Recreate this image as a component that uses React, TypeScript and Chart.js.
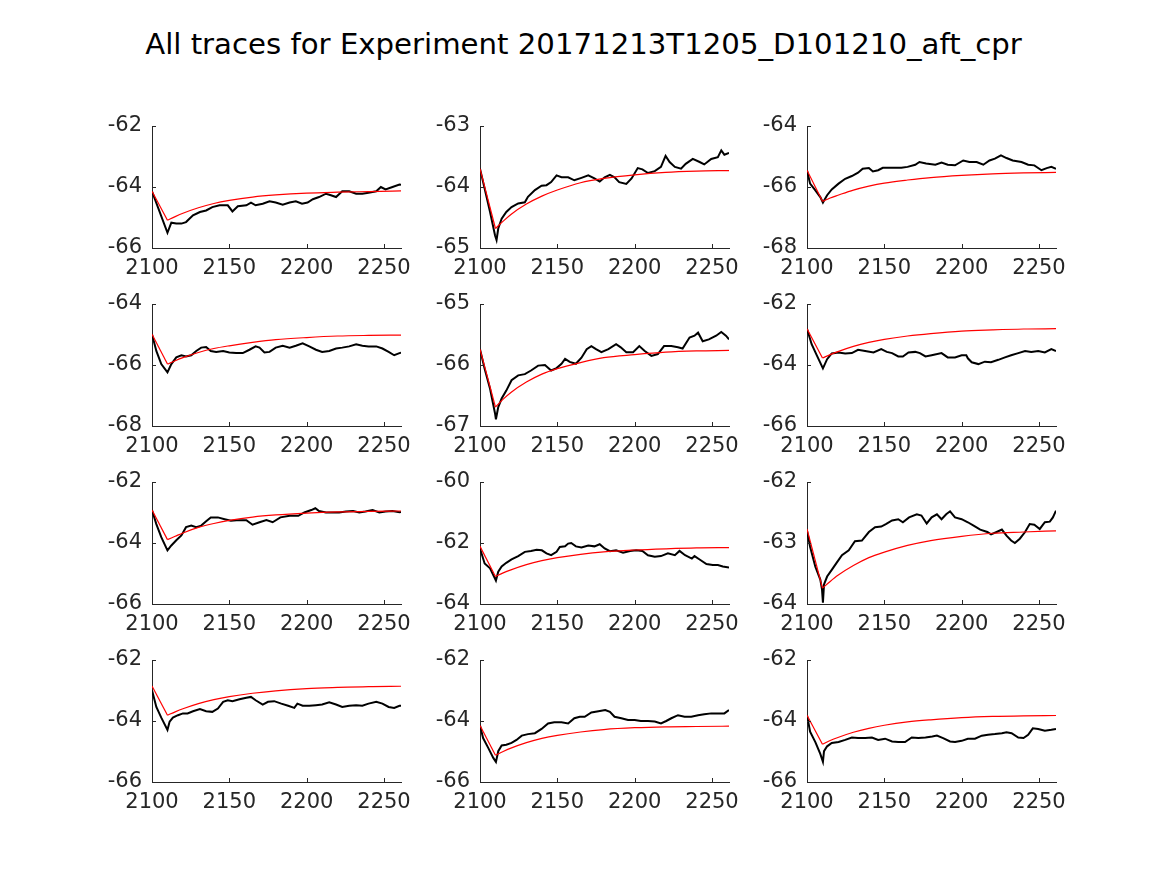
import React, { useEffect, useRef } from "react";
import { Chart, registerables } from "chart.js";

Chart.register(...registerables);

const titleText = "All traces for Experiment 20171213T1205_D101210_aft_cpr";
const xTicks = [2100, 2150, 2200, 2250];
const xMin = 2100;
const xMax = 2261;
const fitX = [2100, 2110, 2115, 2120, 2130, 2140, 2150, 2165, 2180, 2200, 2220, 2240, 2261];

const yTicks1 = [-66, -64, -62];
const trace1 = [[2100,-64.14],[2110,-65.5],[2112.5,-65.17],[2115.7,-65.2],[2119,-65.2],[2122,-65.15],[2126.5,-64.93],[2131,-64.82],[2135,-64.77],[2139,-64.66],[2143.7,-64.6],[2149,-64.6],[2152,-64.8],[2155.5,-64.63],[2161,-64.6],[2164,-64.51],[2167,-64.6],[2171.6,-64.55],[2176,-64.47],[2180,-64.51],[2184.5,-64.58],[2189,-64.51],[2193,-64.47],[2197,-64.55],[2200.6,-64.51],[2204,-64.4],[2208,-64.33],[2212.5,-64.22],[2215.7,-64.27],[2219,-64.33],[2223,-64.14],[2227.5,-64.14],[2232,-64.22],[2236,-64.22],[2240,-64.19],[2245,-64.14],[2248,-64.0],[2251,-64.08],[2255.5,-64.0],[2260,-63.92],[2261,-63.93]];
const fit1 = [-64.14, -65.09, -64.97, -64.86, -64.68, -64.54, -64.44, -64.33, -64.26, -64.2, -64.17, -64.15, -64.13];

const yTicks2 = [-65, -64, -63];
const trace2 = [[2100,-63.7],[2106.5,-64.41],[2109.7,-64.79],[2110.7,-64.87],[2111.8,-64.68],[2114,-64.52],[2117,-64.41],[2120.4,-64.33],[2124.7,-64.27],[2129,-64.25],[2131,-64.16],[2135.5,-64.05],[2139.8,-63.98],[2143,-63.97],[2146,-63.92],[2149.5,-63.81],[2152.7,-63.84],[2157,-63.84],[2161,-63.89],[2165.6,-63.85],[2170,-63.81],[2174,-63.86],[2177.4,-63.91],[2180.6,-63.84],[2184,-63.8],[2187,-63.84],[2190,-63.92],[2194.6,-63.95],[2198,-63.86],[2202,-63.69],[2205,-63.71],[2208.6,-63.77],[2213,-63.74],[2217,-63.67],[2220,-63.49],[2222.6,-63.59],[2226,-63.67],[2230,-63.7],[2233,-63.62],[2237.6,-63.54],[2242,-63.59],[2245,-63.63],[2249.5,-63.54],[2253.8,-63.51],[2256,-63.4],[2258,-63.47],[2261,-63.44]];
const fit2 = [-63.7, -64.68, -64.56, -64.45, -64.28, -64.15, -64.05, -63.93, -63.86, -63.8, -63.76, -63.74, -63.73];

const yTicks3 = [-68, -66, -64];
const trace3 = [[2100,-65.45],[2102,-65.89],[2105.4,-66.11],[2108.6,-66.33],[2110.3,-66.51],[2113,-66.27],[2116,-66.08],[2120.4,-65.89],[2124.7,-65.73],[2129,-65.64],[2133,-65.53],[2136,-65.4],[2140,-65.38],[2142.6,-65.49],[2146,-65.45],[2149,-65.37],[2155,-65.37],[2161,-65.37],[2165,-65.34],[2170,-65.27],[2172.7,-65.18],[2177,-65.23],[2183,-65.27],[2187,-65.2],[2191,-65.27],[2195.7,-65.29],[2201,-65.13],[2205,-65.18],[2209.7,-65.18],[2214,-65.27],[2218,-65.13],[2221.5,-65.07],[2225.4,-64.96],[2229,-65.05],[2233,-65.13],[2238.7,-65.18],[2243,-65.27],[2247,-65.29],[2251.6,-65.45],[2255,-65.38],[2258,-65.34],[2261,-65.4]];
const fit3 = [-65.45, -66.47, -66.36, -66.27, -66.1, -65.97, -65.87, -65.77, -65.69, -65.62, -65.57, -65.54, -65.52];

const yTicks4 = [-68, -66, -64];
const trace4 = [[2100,-64.99],[2102.8,-65.54],[2106,-65.97],[2110,-66.24],[2112.5,-65.97],[2115.7,-65.75],[2119,-65.68],[2122,-65.72],[2125.4,-65.68],[2128.6,-65.54],[2131.8,-65.43],[2135,-65.41],[2138,-65.54],[2141.5,-65.57],[2146,-65.54],[2150,-65.59],[2154.4,-65.61],[2158.7,-65.61],[2163,-65.5],[2167,-65.39],[2169.5,-65.43],[2172.7,-65.59],[2176,-65.57],[2180,-65.43],[2184.5,-65.37],[2189,-65.43],[2193,-65.37],[2197.4,-65.29],[2201.7,-65.39],[2206,-65.5],[2210,-65.57],[2214.6,-65.54],[2219,-65.46],[2223,-65.43],[2227.5,-65.39],[2232,-65.32],[2236,-65.37],[2240,-65.39],[2245,-65.39],[2249,-65.46],[2253,-65.57],[2256.6,-65.68],[2260,-65.61],[2261,-65.6]];
const fit4 = [-64.99, -65.97, -65.86, -65.76, -65.59, -65.46, -65.37, -65.26, -65.17, -65.1, -65.05, -65.03, -65.02];

const yTicks5 = [-67, -66, -65];
const trace5 = [[2100,-65.74],[2103,-66.06],[2106.5,-66.39],[2109.7,-66.79],[2110.3,-66.89],[2111.8,-66.69],[2114,-66.55],[2117,-66.42],[2120.4,-66.25],[2124.7,-66.17],[2129,-66.15],[2133,-66.09],[2137.6,-66.01],[2142,-66.0],[2146,-66.09],[2149.5,-66.05],[2152.7,-65.98],[2155,-65.9],[2158,-65.95],[2162,-65.98],[2165.6,-65.88],[2169,-65.74],[2172,-65.69],[2175,-65.74],[2178.5,-65.79],[2183,-65.74],[2188,-65.66],[2191,-65.71],[2194.6,-65.79],[2199,-65.79],[2203,-65.69],[2206.5,-65.77],[2210.8,-65.85],[2215,-65.82],[2219,-65.69],[2223.7,-65.69],[2228,-65.71],[2231,-65.73],[2235.5,-65.55],[2238.7,-65.52],[2241,-65.47],[2244,-65.61],[2248,-65.58],[2252.7,-65.52],[2256,-65.46],[2259,-65.52],[2261,-65.58]];
const fit5 = [-65.74, -66.69, -66.56, -66.45, -66.28, -66.15, -66.06, -65.96, -65.88, -65.83, -65.79, -65.77, -65.76];

const yTicks6 = [-66, -64, -62];
const trace6 = [[2100,-62.81],[2103,-63.32],[2106.5,-63.7],[2110.3,-64.11],[2113,-63.81],[2116,-63.62],[2120.4,-63.59],[2124.7,-63.62],[2129,-63.61],[2133,-63.5],[2137.6,-63.54],[2143,-63.59],[2148,-63.48],[2151.6,-63.57],[2155,-63.61],[2159,-63.72],[2162,-63.72],[2165.6,-63.59],[2170,-63.57],[2173,-63.61],[2176.6,-63.72],[2180.6,-63.68],[2187,-63.61],[2191,-63.75],[2195.7,-63.75],[2200,-63.68],[2203,-63.68],[2204,-63.78],[2206.5,-63.91],[2210.8,-63.97],[2215,-63.89],[2219,-63.91],[2223.7,-63.83],[2228,-63.75],[2232,-63.68],[2236.6,-63.61],[2241,-63.54],[2245,-63.57],[2249.5,-63.54],[2253.8,-63.59],[2258,-63.48],[2261,-63.54]];
const fit6 = [-62.81, -63.77, -63.66, -63.56, -63.39, -63.26, -63.16, -63.05, -62.97, -62.89, -62.85, -62.82, -62.81];

const yTicks7 = [-66, -64, -62];
const trace7 = [[2100,-62.92],[2102.8,-63.38],[2106,-63.81],[2110,-64.24],[2112.5,-64.08],[2115.7,-63.91],[2119,-63.75],[2122,-63.48],[2125.4,-63.43],[2128.6,-63.48],[2131.8,-63.43],[2135,-63.29],[2138,-63.16],[2142.6,-63.16],[2147,-63.22],[2151,-63.27],[2156.6,-63.25],[2161,-63.25],[2165,-63.4],[2169.5,-63.32],[2174,-63.25],[2178,-63.32],[2183,-63.16],[2189,-63.11],[2194.6,-63.11],[2198.5,-63.0],[2203,-62.92],[2205.6,-62.86],[2208,-62.95],[2212.5,-63.0],[2217,-63.0],[2221,-63.0],[2225.4,-62.97],[2230,-62.95],[2234,-63.0],[2238,-62.97],[2242.6,-62.92],[2247,-63.0],[2251,-62.97],[2255.5,-62.95],[2260,-62.99],[2261,-62.98]];
const fit7 = [-62.92, -63.89, -63.78, -63.67, -63.49, -63.36, -63.26, -63.15, -63.08, -63.02, -62.98, -62.96, -62.95];

const yTicks8 = [-64, -62, -60];
const trace8 = [[2100,-62.18],[2103,-62.67],[2106.5,-62.83],[2110.3,-63.23],[2111.8,-62.94],[2114,-62.77],[2117,-62.65],[2120.4,-62.54],[2124.7,-62.43],[2129,-62.29],[2133,-62.26],[2136.6,-62.22],[2140,-62.24],[2143,-62.34],[2146,-62.4],[2149.5,-62.29],[2151.6,-62.13],[2155,-62.11],[2157,-62.02],[2159,-62.0],[2162,-62.11],[2165.6,-62.15],[2170,-62.08],[2174,-62.11],[2177.4,-62.04],[2180.6,-62.18],[2184,-62.27],[2188,-62.24],[2192.5,-62.32],[2197,-62.26],[2201,-62.24],[2205,-62.26],[2208.6,-62.4],[2213,-62.45],[2217,-62.43],[2221.5,-62.34],[2226,-62.4],[2229,-62.26],[2232.6,-62.4],[2237,-62.51],[2238.7,-62.43],[2242,-62.54],[2246.4,-62.69],[2250.5,-62.72],[2253.8,-62.72],[2257,-62.77],[2261,-62.8]];
const fit8 = [-62.11, -63.1, -62.98, -62.88, -62.71, -62.58, -62.48, -62.37, -62.29, -62.23, -62.19, -62.16, -62.15];

const yTicks9 = [-64, -63, -62];
const trace9 = [[2100,-62.8],[2102,-63.06],[2105.4,-63.39],[2108.6,-63.6],[2109.7,-63.76],[2110.3,-63.98],[2111,-63.68],[2113,-63.55],[2116,-63.44],[2119,-63.33],[2122.6,-63.2],[2127,-63.12],[2131,-62.97],[2135.5,-62.96],[2140,-62.82],[2144,-62.74],[2148,-62.73],[2151,-62.69],[2155,-62.63],[2159,-62.61],[2162,-62.66],[2166,-62.58],[2171,-62.53],[2174,-62.55],[2177.4,-62.68],[2180.6,-62.58],[2184,-62.53],[2187,-62.61],[2190,-62.53],[2192.5,-62.48],[2195.7,-62.58],[2200,-62.61],[2204,-62.66],[2208,-62.72],[2212,-62.78],[2216.6,-62.82],[2219,-62.86],[2222.6,-62.82],[2226,-62.78],[2229,-62.88],[2232,-62.96],[2234.4,-63.0],[2237.6,-62.93],[2241,-62.82],[2244,-62.69],[2247,-62.7],[2250.5,-62.77],[2253.8,-62.66],[2257,-62.65],[2259,-62.58],[2261,-62.47]];
const fit9 = [-62.77, -63.74, -63.63, -63.53, -63.37, -63.24, -63.15, -63.04, -62.96, -62.89, -62.84, -62.82, -62.8];

const yTicks10 = [-66, -64, -62];
const trace10 = [[2100,-62.99],[2102.8,-63.54],[2106,-63.89],[2110,-64.29],[2111.4,-64.02],[2113.5,-63.89],[2116.8,-63.81],[2120,-63.75],[2123,-63.75],[2126.5,-63.68],[2131,-63.61],[2135,-63.68],[2139,-63.7],[2142.6,-63.59],[2146,-63.37],[2149,-63.32],[2152,-63.35],[2156.6,-63.29],[2161,-63.24],[2164,-63.21],[2167,-63.32],[2171.6,-63.46],[2175,-63.37],[2179,-63.35],[2183.6,-63.43],[2188,-63.5],[2192,-63.57],[2194,-63.43],[2197.4,-63.5],[2201.7,-63.5],[2206,-63.48],[2210,-63.46],[2214.6,-63.39],[2219,-63.46],[2223,-63.54],[2227.5,-63.5],[2232,-63.48],[2236,-63.5],[2240,-63.43],[2245,-63.37],[2249,-63.43],[2253,-63.54],[2256.6,-63.57],[2260,-63.5],[2261,-63.5]];
const fit10 = [-62.85, -63.81, -63.7, -63.6, -63.43, -63.3, -63.2, -63.09, -63.01, -62.94, -62.9, -62.87, -62.86];

const yTicks11 = [-66, -64, -62];
const trace11 = [[2100,-64.15],[2102,-64.56],[2105.4,-64.89],[2108.6,-65.21],[2110.3,-65.34],[2111.8,-64.99],[2114,-64.8],[2117,-64.78],[2120.4,-64.72],[2123.6,-64.62],[2127,-64.48],[2131,-64.43],[2135.5,-64.4],[2139.8,-64.26],[2144,-64.08],[2148,-64.04],[2152.7,-64.04],[2157,-64.08],[2161,-63.91],[2164.5,-63.86],[2167.7,-63.86],[2172,-63.72],[2176.6,-63.68],[2181,-63.64],[2184,-63.7],[2187,-63.86],[2191.4,-63.91],[2195.7,-63.97],[2200,-63.97],[2204,-64.0],[2208.6,-64.0],[2213,-64.02],[2217,-64.08],[2220.4,-64.0],[2223.7,-63.91],[2228,-63.81],[2232.3,-63.86],[2236.6,-63.86],[2241,-63.81],[2245,-63.78],[2249.5,-63.75],[2253.8,-63.75],[2258,-63.75],[2261,-63.64]];
const fit11 = [-64.15, -65.12, -65.0, -64.89, -64.71, -64.57, -64.47, -64.36, -64.28, -64.22, -64.19, -64.18, -64.17];

const yTicks12 = [-66, -64, -62];
const trace12 = [[2100,-63.81],[2102,-64.35],[2105.4,-64.69],[2108.6,-65.08],[2110.3,-65.34],[2111,-64.99],[2113,-64.83],[2116,-64.72],[2120.4,-64.69],[2124.7,-64.62],[2129,-64.54],[2133,-64.56],[2137.6,-64.56],[2142,-64.54],[2146,-64.62],[2150.5,-64.58],[2155,-64.67],[2159,-64.69],[2163.4,-64.69],[2167.7,-64.54],[2172,-64.56],[2176.6,-64.54],[2181,-64.51],[2184,-64.48],[2188,-64.56],[2192.5,-64.67],[2195.7,-64.69],[2200,-64.65],[2204,-64.58],[2208.6,-64.58],[2213,-64.48],[2217,-64.45],[2221.5,-64.43],[2226,-64.4],[2229,-64.37],[2232.3,-64.4],[2236.6,-64.54],[2240,-64.56],[2243,-64.45],[2246,-64.24],[2249.5,-64.26],[2253.8,-64.32],[2258,-64.29],[2261,-64.26]];
const fit12 = [-63.81, -64.76, -64.64, -64.54, -64.37, -64.24, -64.14, -64.03, -63.96, -63.89, -63.85, -63.83, -63.82];

const panels = [
  { trace: trace1, fit: fit1, yTicks: yTicks1 },
  { trace: trace2, fit: fit2, yTicks: yTicks2 },
  { trace: trace3, fit: fit3, yTicks: yTicks3 },
  { trace: trace4, fit: fit4, yTicks: yTicks4 },
  { trace: trace5, fit: fit5, yTicks: yTicks5 },
  { trace: trace6, fit: fit6, yTicks: yTicks6 },
  { trace: trace7, fit: fit7, yTicks: yTicks7 },
  { trace: trace8, fit: fit8, yTicks: yTicks8 },
  { trace: trace9, fit: fit9, yTicks: yTicks9 },
  { trace: trace10, fit: fit10, yTicks: yTicks10 },
  { trace: trace11, fit: fit11, yTicks: yTicks11 },
  { trace: trace12, fit: fit12, yTicks: yTicks12 },
];

const colLeft = [152, 480, 807];
const rowTop = [126, 304, 482, 660];
const PLOT_W = 249;
const PLOT_H = 122;
const AXIS_W = 70;
const AXIS_H = 45;
const PAD_T = 32;
const PAD_R = 40;
const FONT = "'DejaVu Sans', sans-serif";
const AXIS_COLOR = "#262626";

const inwardTicks = {
  id: "inwardTicks",
  afterDraw(chart: any) {
    const { ctx, chartArea, scales } = chart;
    ctx.save();
    ctx.strokeStyle = AXIS_COLOR;
    ctx.lineWidth = 1;
    ctx.beginPath();
    for (const t of scales.x.ticks) {
      const px = Math.round(scales.x.getPixelForValue(t.value)) + 0.5;
      ctx.moveTo(px, chartArea.bottom);
      ctx.lineTo(px, chartArea.bottom - 4);
    }
    for (const t of scales.y.ticks) {
      const py = Math.round(scales.y.getPixelForValue(t.value)) + 0.5;
      ctx.moveTo(chartArea.left, py);
      ctx.lineTo(chartArea.left + 4, py);
    }
    ctx.stroke();
    ctx.restore();
  },
};

function Panel({ trace, fit, yTicks, left, top }: any) {
  const ref = useRef<HTMLCanvasElement | null>(null);
  useEffect(() => {
    if (!ref.current) return;
    const fitPts = fitX.map((x, i) => ({ x, y: fit[i] }));
    const chart = new Chart(ref.current, {
      type: "line",
      data: {
        datasets: [
          { data: fitPts.slice(0, 2), borderColor: "#ff0000", borderWidth: 1.2, pointRadius: 0, tension: 0 },
          { data: fitPts.slice(1), borderColor: "#ff0000", borderWidth: 1.2, pointRadius: 0, cubicInterpolationMode: "monotone" },
          { data: trace.map(([x, y]: number[]) => ({ x, y })), borderColor: "#000000", borderWidth: 2, pointRadius: 0, tension: 0 },
        ],
      } as any,
      options: {
        responsive: false,
        animation: false,
        devicePixelRatio: 1,
        events: [],
        layout: { padding: { left: 0, top: PAD_T, right: PAD_R, bottom: 0 } },
        plugins: { legend: { display: false }, tooltip: { enabled: false }, title: { display: false } },
        scales: {
          x: {
            type: "linear",
            min: xMin,
            max: xMax,
            grid: { display: false, drawTicks: false },
            border: { display: true, color: AXIS_COLOR, width: 1 },
            ticks: { color: AXIS_COLOR, font: { family: FONT, size: 21 }, padding: 8, maxRotation: 0, autoSkip: false, callback: (v: any) => String(v) },
            afterBuildTicks: (s: any) => { s.ticks = xTicks.map((v) => ({ value: v })); },
            afterFit: (s: any) => { s.height = AXIS_H; },
          },
          y: {
            type: "linear",
            min: yTicks[0],
            max: yTicks[yTicks.length - 1],
            grid: { display: false, drawTicks: false },
            border: { display: true, color: AXIS_COLOR, width: 1 },
            ticks: { color: AXIS_COLOR, font: { family: FONT, size: 21 }, padding: 10, autoSkip: false, callback: (v: any) => String(v) },
            afterBuildTicks: (s: any) => { s.ticks = yTicks.map((v: number) => ({ value: v })); },
            afterFit: (s: any) => { s.width = AXIS_W; },
          },
        },
      } as any,
      plugins: [inwardTicks],
    });
    return () => chart.destroy();
  }, [trace, fit, yTicks]);
  return (
    <canvas
      ref={ref}
      width={AXIS_W + PLOT_W + PAD_R}
      height={PAD_T + PLOT_H + AXIS_H}
      style={{ position: "absolute", left: left - AXIS_W, top: top - PAD_T }}
    />
  );
}

export default function App() {
  return (
    <div style={{ position: "absolute", left: 0, top: 0, width: 1167, height: 875, background: "#ffffff", overflow: "hidden" }}>
      <div
        style={{
          position: "absolute",
          left: 0,
          top: 30,
          width: 1167,
          textAlign: "center",
          fontFamily: FONT,
          fontSize: 29.2,
          lineHeight: "29px",
          color: "#000000",
          whiteSpace: "nowrap",
        }}
      >
        {titleText}
      </div>
      {panels.map((p, i) => (
        <Panel key={i} {...p} left={colLeft[i % 3]} top={rowTop[Math.floor(i / 3)]} />
      ))}
    </div>
  );
}
